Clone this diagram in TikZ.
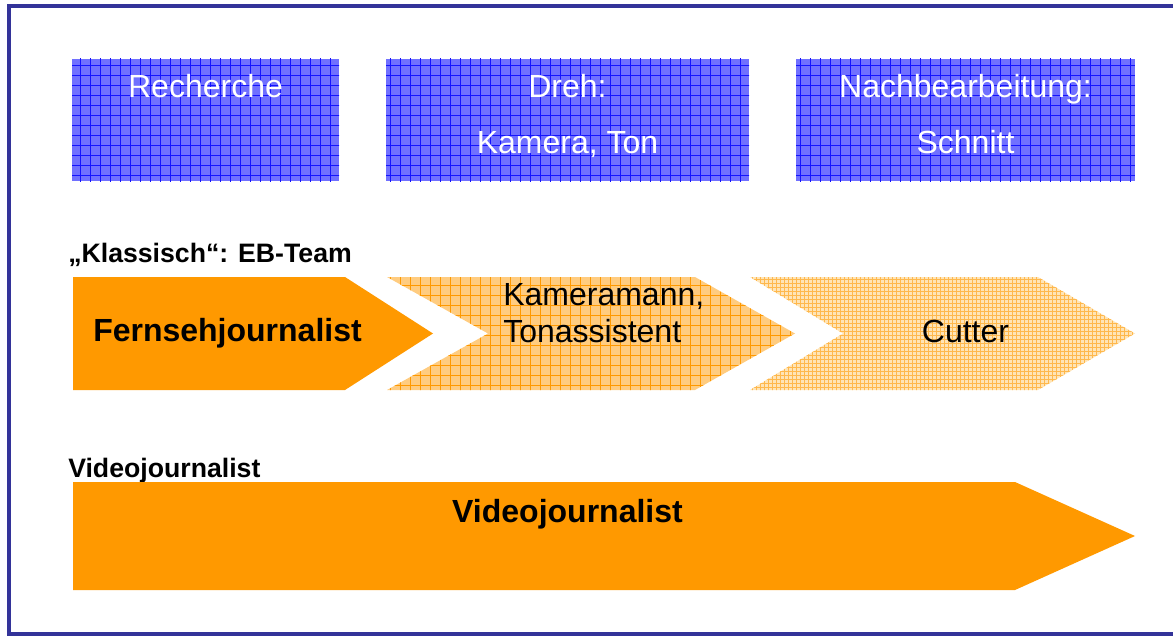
\documentclass[tikz,border=0pt]{standalone}
\usepackage{fontspec}
\setmainfont{Liberation Sans}
\definecolor{framenavy}{RGB}{51,51,153}
\definecolor{boxblue}{RGB}{112,112,255}
\definecolor{gridblue}{RGB}{20,20,255}
\definecolor{vjorange}{RGB}{255,153,0}
\definecolor{paleorange}{RGB}{255,204,128}
\definecolor{paleorange2}{RGB}{255,228,182}
\usetikzlibrary{patterns.meta}
\tikzset{
  bluebox/.style={fill=boxblue,
    postaction={pattern={Lines[distance=7.5pt,angle=0,line width=0.7pt]},pattern color=gridblue},
    postaction={pattern={Lines[distance=7.5pt,angle=90,line width=0.7pt]},pattern color=gridblue}},
  chevfull/.style={fill=vjorange},
  chevgrid/.style={fill=paleorange,
    postaction={pattern={Lines[distance=7.5pt,angle=0,line width=0.6pt]},pattern color=vjorange},
    postaction={pattern={Lines[distance=7.5pt,angle=90,line width=0.6pt]},pattern color=vjorange}},
  chevfine/.style={fill=paleorange2,
    postaction={pattern={Lines[distance=3pt,angle=0,line width=0.5pt]},pattern color=vjorange!70},
    postaction={pattern={Lines[distance=3pt,angle=90,line width=0.5pt]},pattern color=vjorange!70}},
}

\begin{document}
\begin{tikzpicture}[x=0.75pt,y=-0.75pt,
      phase/.style={font=\fontsize{24}{29}\selectfont,text=white,inner sep=0pt,anchor=base},
      role/.style={font=\fontsize{24}{29}\selectfont,inner sep=0pt},
      rolebf/.style={role,font=\fontsize{24}{29}\selectfont\bfseries},
      caption/.style={font=\fontsize{20}{24}\selectfont\bfseries,inner sep=0pt,anchor=base west},
    ]
    \useasboundingbox (0,0) rectangle (1173,635);
    \clip (0,0) rectangle (1173,635);

    % outer frame (right side runs off the page)
    \draw[framenavy,line width=3pt] (9,6) rectangle (1180,633.5);

    % production phases
    \path[bluebox] (72,59)  rectangle (339,181);
    \path[bluebox] (386,59) rectangle (749,181);
    \path[bluebox] (796,59) rectangle (1135,181);

    \node[phase] (rech)  at (205.5,98) {Recherche};
    \node[phase] (dreh)  at (567.5,98) {Dreh:};
    \node[phase] (kton)  at (567.5,153) {Kamera, Ton};
    \node[phase] (nach)  at (965.5,98) {Nachbearbeitung:};
    \node[phase] (schn)  at (965.5,153) {Schnitt};

    % classic team
    \node[caption] (klass) at (68,262) {„Klassisch“: EB-Team};

    \path[chevfull] (73,277) -- (345,277) -- (433,333.5) -- (345,390) -- (73,390) -- cycle;
    \path[chevgrid] (387,277) -- (695,277) -- (795,333.5) -- (695,390) -- (387,390)
                    -- (488,333.5) -- cycle;
    \path[chevfine] (750,277) -- (1038,277) -- (1135,333.5) -- (1038,390) -- (750,390)
                    -- (843,333.5) -- cycle;

    \node[rolebf,anchor=base west] (fj)  at (93,341)  {Fernsehjournalist};
    \node[role,anchor=base west]   (kam) at (503,305) {Kameramann,};
    \node[role,anchor=base west]   (ton) at (503,342) {Tonassistent};
    \node[role,anchor=base]        (cut) at (965.5,342) {Cutter};

    % one person does it all
    \node[caption] (vjlab) at (68,477) {Videojournalist};

    \path[chevfull] (73,482) -- (1015,482) -- (1135,536) -- (1015,590) -- (73,590) -- cycle;
    \node[rolebf,anchor=base] (vj) at (567.5,522) {Videojournalist};

  \end{tikzpicture}
\end{document}
